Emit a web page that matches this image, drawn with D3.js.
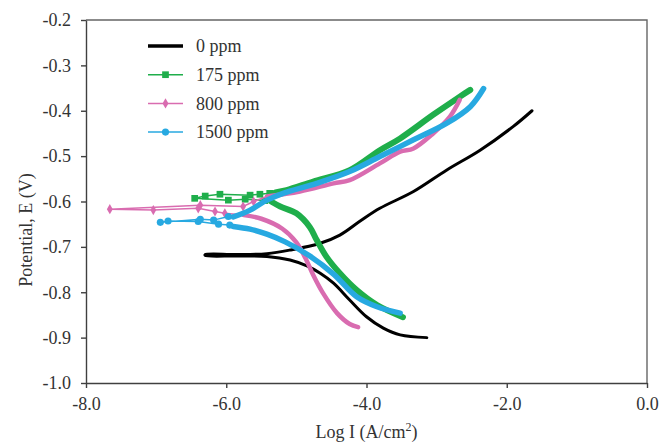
<!DOCTYPE html>
<html>
<head>
<meta charset="utf-8">
<script src="https://cdn.jsdelivr.net/npm/d3@7"></script>
<style>
  html, body { margin: 0; padding: 0; background: #fff; }
  svg { display: block; }
  text { font-family: "Liberation Serif", "Times New Roman", serif; fill: #333; }
</style>
</head>
<body>
<svg id="chart" width="660" height="445"></svg>
<script>
// axis ticks
const X_TICKS = [-8, -6, -4, -2, 0];
const Y_TICKS = [-1.0, -0.9, -0.8, -0.7, -0.6, -0.5, -0.4, -0.3, -0.2];
const SERIES_NAMES = ["0 ppm", "175 ppm", "800 ppm", "1500 ppm"];

// [log I, E] pairs in scan order: cathodic end -> near Ecorr -> anodic end
const ppm0Cathodic = [[-3.14, -0.900], [-3.52, -0.894], [-3.76, -0.879], [-4.00, -0.854], [-4.24, -0.817],
  [-4.47, -0.780], [-4.66, -0.758], [-4.85, -0.742], [-5.09, -0.729], [-5.42, -0.721], [-5.85, -0.720], [-6.30, -0.719]];
const ppm0Anodic = [[-6.30, -0.717], [-5.85, -0.717], [-5.42, -0.715], [-5.09, -0.707], [-4.66, -0.692], [-4.38, -0.674],
  [-4.09, -0.643], [-3.81, -0.615], [-3.33, -0.578], [-2.86, -0.531], [-2.38, -0.487], [-1.91, -0.435], [-1.64, -0.400]];

const ppm175Cathodic = [[-3.48, -0.855], [-3.85, -0.828], [-4.14, -0.795], [-4.38, -0.758], [-4.57, -0.722],
  [-4.71, -0.685], [-4.81, -0.656], [-5.00, -0.626], [-5.23, -0.611], [-5.36, -0.600]];
const ppm175Corr = [[-5.45, -0.598], [-5.73, -0.595], [-5.97, -0.597], [-6.45, -0.593], [-6.30, -0.588],
  [-6.09, -0.584], [-5.66, -0.586], [-5.52, -0.584], [-5.38, -0.582]];
const ppm175Anodic = [[-5.30, -0.580], [-5.14, -0.575], [-4.76, -0.556], [-4.24, -0.531], [-3.81, -0.487], [-3.52, -0.461],
  [-3.05, -0.409], [-2.67, -0.369], [-2.52, -0.354]];

const ppm800Cathodic = [[-4.12, -0.877], [-4.24, -0.870], [-4.42, -0.846], [-4.62, -0.802], [-4.76, -0.762],
  [-4.87, -0.725], [-5.00, -0.690], [-5.20, -0.660], [-5.50, -0.638], [-5.75, -0.630]];
const ppm800Corr = [[-6.02, -0.626], [-6.16, -0.622], [-6.40, -0.615], [-7.04, -0.619], [-7.66, -0.617],
  [-6.37, -0.608], [-5.76, -0.611], [-5.61, -0.600]];
const ppm800Anodic = [[-5.42, -0.589], [-4.95, -0.578], [-4.47, -0.560], [-4.24, -0.553], [-3.81, -0.516],
  [-3.52, -0.490], [-3.33, -0.483], [-3.05, -0.450], [-2.81, -0.413], [-2.67, -0.376]];

const ppm1500Cathodic = [[-3.52, -0.846], [-3.85, -0.832], [-4.14, -0.810], [-4.47, -0.760], [-4.83, -0.718],
  [-5.16, -0.689], [-5.42, -0.672], [-5.66, -0.661], [-5.90, -0.655]];
const ppm1500Corr = [[-5.95, -0.652], [-6.11, -0.650], [-6.40, -0.644], [-6.83, -0.643], [-6.94, -0.646],
  [-6.37, -0.639], [-6.18, -0.641], [-5.97, -0.633]];
const ppm1500Anodic = [[-5.90, -0.634], [-5.66, -0.619], [-5.42, -0.597], [-5.19, -0.582], [-4.71, -0.560],
  [-4.24, -0.534], [-3.81, -0.501], [-3.33, -0.464], [-2.86, -0.428], [-2.52, -0.391], [-2.33, -0.351]];

const series = [
  { name: SERIES_NAMES[0], color: "#000000", cathodic: ppm0Cathodic, corr: [], anodic: ppm0Anodic, width: 3, marker: null },
  { name: SERIES_NAMES[1], color: "#1fae4b", cathodic: ppm175Cathodic, corr: ppm175Corr, anodic: ppm175Anodic, width: 6, marker: "square" },
  { name: SERIES_NAMES[2], color: "#d96cb0", cathodic: ppm800Cathodic, corr: ppm800Corr, anodic: ppm800Anodic, width: 4.5, marker: "diamond" },
  { name: SERIES_NAMES[3], color: "#27a9e1", cathodic: ppm1500Cathodic, corr: ppm1500Corr, anodic: ppm1500Anodic, width: 5.5, marker: "circle" }
];

const FONT = '"Liberation Serif", "Times New Roman", serif';

const margin = { top: 20, right: 13, bottom: 62, left: 86 };
const width = 660 - margin.left - margin.right;
const height = 445 - margin.top - margin.bottom;

const svg = d3.select("#chart");
const g = svg.append("g").attr("transform", `translate(${margin.left},${margin.top})`);

const x = d3.scaleLinear().domain([-8, 0]).range([0, width]);
const y = d3.scaleLinear().domain([-1.0, -0.2]).range([height, 0]);

// box (top and right)
g.append("path")
  .attr("d", `M0,0H${width}V${height}`)
  .attr("fill", "none")
  .attr("stroke", "#666")
  .attr("stroke-width", 1.4);

const fmt = d => d.toFixed(1);

const xAxis = g.append("g")
  .attr("transform", `translate(0,${height})`)
  .call(d3.axisBottom(x).tickValues(X_TICKS).tickFormat(fmt).tickSize(5).tickSizeOuter(0).tickPadding(9));
const yAxis = g.append("g")
  .call(d3.axisLeft(y).tickValues(Y_TICKS).tickFormat(fmt).tickSize(5).tickSizeOuter(0).tickPadding(10));

[xAxis, yAxis].forEach(a => {
  a.attr("font-family", FONT).attr("font-size", 18);
  a.selectAll("path, line").attr("stroke", "#404040").attr("stroke-width", 1.4);
  a.selectAll("text").attr("fill", "#333");
});

// axis titles
const xTitle = svg.append("text")
  .attr("x", margin.left + width / 2)
  .attr("y", 438)
  .attr("text-anchor", "middle")
  .attr("font-size", 18);
xTitle.append("tspan").text("Log I (A/cm");
xTitle.append("tspan").attr("font-size", 12).attr("dy", -7).text("2");
xTitle.append("tspan").attr("dy", 7).text(")");

svg.append("text")
  .attr("transform", "translate(32,230) rotate(-90)")
  .attr("text-anchor", "middle")
  .attr("font-size", 18)
  .text("Potential, E (V)");

const smooth = d3.line().x(d => x(d[0])).y(d => y(d[1])).curve(d3.curveCatmullRom.alpha(0.5));
const straight = d3.line().x(d => x(d[0])).y(d => y(d[1]));

const symbolType = { square: d3.symbolSquare, diamond: d3.symbolDiamond, circle: d3.symbolCircle };
const symbolSize = { square: 45, diamond: 30, circle: 40 };

const plot = g.append("g");

series.forEach(s => {
  const grp = plot.append("g");
  if (!s.marker) {
    grp.append("path")
      .attr("d", smooth(s.cathodic.concat(s.anodic)))
      .attr("fill", "none")
      .attr("stroke", s.color)
      .attr("stroke-width", s.width)
      .attr("stroke-linejoin", "round")
      .attr("stroke-linecap", "round");
    return;
  }
  // thin connecting line through the sparse points near Ecorr
  const joinPts = [s.cathodic[s.cathodic.length - 1]].concat(s.corr, [s.anodic[0]]);
  grp.append("path")
    .attr("d", straight(joinPts))
    .attr("fill", "none")
    .attr("stroke", s.color)
    .attr("stroke-width", 1.5);
  // dense branches drawn as thick strokes
  [s.cathodic, s.anodic].forEach(branch => {
    grp.append("path")
      .attr("d", smooth(branch))
      .attr("fill", "none")
      .attr("stroke", s.color)
      .attr("stroke-width", s.width)
      .attr("stroke-linejoin", "round")
      .attr("stroke-linecap", "round");
  });
  grp.selectAll("path.mk")
    .data(s.corr)
    .join("path")
    .attr("class", "mk")
    .attr("transform", d => `translate(${x(d[0])},${y(d[1])})`)
    .attr("d", d3.symbol().type(symbolType[s.marker]).size(symbolSize[s.marker]))
    .attr("fill", s.color);
});

// legend
const legend = svg.append("g").attr("transform", "translate(148,46)");
const legendItems = legend.selectAll("g")
  .data(series)
  .join("g")
  .attr("transform", (d, i) => `translate(0,${i * 28.7})`);

legendItems.append("line")
  .attr("x1", 0).attr("x2", 35)
  .attr("stroke", d => d.color)
  .attr("stroke-width", d => d.marker ? 1.5 : 3.5);

legendItems.filter(d => d.marker)
  .append("path")
  .attr("transform", "translate(17.5,0)")
  .attr("d", d => d3.symbol().type(symbolType[d.marker]).size(symbolSize[d.marker])())
  .attr("fill", d => d.color);

legendItems.append("text")
  .attr("x", 48)
  .attr("dy", "0.35em")
  .attr("font-size", 18)
  .text(d => d.name);
</script>
</body>
</html>
